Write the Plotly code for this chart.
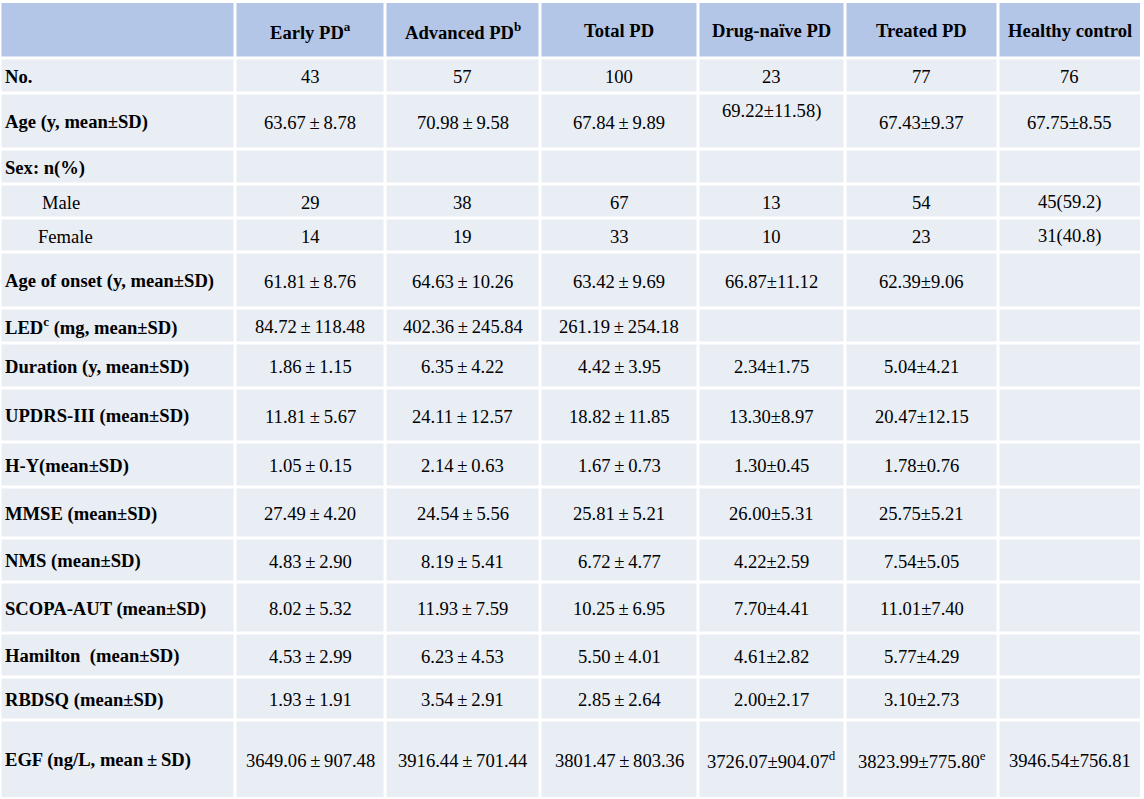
import plotly.graph_objects as go

# ---------------- data ----------------
col_headers = ["Early PD<sup>a</sup>", "Advanced PD<sup>b</sup>", "Total PD",
               "Drug-naïve PD", "Treated PD", "Healthy control"]

row_labels = ["No.", "Age (y, mean±SD)", "Sex: n(%)", "Male", "Female",
              "Age of onset (y, mean±SD)", "LED<sup>c</sup> (mg, mean±SD)",
              "Duration (y, mean±SD)", "UPDRS-III (mean±SD)", "H-Y(mean±SD)",
              "MMSE (mean±SD)", "NMS (mean±SD)", "SCOPA-AUT (mean±SD)",
              "Hamilton  (mean±SD)", "RBDSQ (mean±SD)", "EGF (ng/L, mean\u2009±\u2009SD)"]

early_pd = ["43", "63.67±8.78", "", "29", "14", "61.81±8.76", "84.72±118.48",
            "1.86±1.15", "11.81±5.67", "1.05±0.15", "27.49±4.20", "4.83±2.90",
            "8.02±5.32", "4.53±2.99", "1.93±1.91", "3649.06±907.48"]
advanced_pd = ["57", "70.98±9.58", "", "38", "19", "64.63±10.26", "402.36±245.84",
               "6.35±4.22", "24.11±12.57", "2.14±0.63", "24.54±5.56", "8.19±5.41",
               "11.93±7.59", "6.23±4.53", "3.54±2.91", "3916.44±701.44"]
total_pd = ["100", "67.84±9.89", "", "67", "33", "63.42±9.69", "261.19±254.18",
            "4.42±3.95", "18.82±11.85", "1.67±0.73", "25.81±5.21", "6.72±4.77",
            "10.25±6.95", "5.50±4.01", "2.85±2.64", "3801.47±803.36"]
drug_naive_pd = ["23", "69.22±11.58)", "", "13", "10", "66.87±11.12", "",
                 "2.34±1.75", "13.30±8.97", "1.30±0.45", "26.00±5.31", "4.22±2.59",
                 "7.70±4.41", "4.61±2.82", "2.00±2.17", "3726.07±904.07<sup>d</sup>"]
treated_pd = ["77", "67.43±9.37", "", "54", "23", "62.39±9.06", "",
              "5.04±4.21", "20.47±12.15", "1.78±0.76", "25.75±5.21", "7.54±5.05",
              "11.01±7.40", "5.77±4.29", "3.10±2.73", "3823.99±775.80<sup>e</sup>"]
healthy_control = ["76", "67.75±8.55", "", "45(59.2)", "31(40.8)", "", "",
                   "", "", "", "", "", "", "", "", "3946.54±756.81"]

columns = [early_pd, advanced_pd, total_pd, drug_naive_pd, treated_pd, healthy_control]

# ---------------- layout / style ----------------
W, H = 1144, 799
col_edges = [0, 235, 385, 540, 698, 845, 998, 1141.5]
row_edges = [1.5, 58, 93, 149, 184, 218, 252, 308, 343, 388, 442, 487, 538,
             582, 633, 677, 720, 798.5]
gap = 1.5
header_color = "#B4C6E7"
body_color = "#E9EDF4"
font_family = "Liberation Serif, Times New Roman, serif"
fs = 18.6
wide_pm_cols = {0, 1, 2}          # columns printed with a wide ± sign
label_x = {"Male": 40, "Female": 36}
plain_labels = {"Male", "Female"}
cell_yshift = {(1, 3): 11}        # (row, col) raised text

shapes = []
annotations = []

n_rows = len(row_labels) + 1
n_cols = len(col_headers) + 1
for i in range(n_rows):
    for j in range(n_cols):
        shapes.append(dict(
            type="rect", xref="x", yref="y",
            x0=col_edges[j] + gap, x1=col_edges[j + 1] - gap,
            y0=row_edges[i] + gap, y1=row_edges[i + 1] - gap,
            fillcolor=header_color if i == 0 else body_color,
            line=dict(width=0), layer="below"))

def ycen(i):
    return (row_edges[i] + row_edges[i + 1]) / 2 + 1

# header
for j, h in enumerate(col_headers):
    annotations.append(dict(
        x=(col_edges[j + 1] + col_edges[j + 2]) / 2, y=ycen(0),
        text="<b>%s</b>" % h, showarrow=False, xanchor="center", yanchor="middle",
        font=dict(family=font_family, size=fs, color="#000")))

# row labels
for r, lab in enumerate(row_labels):
    txt = lab if lab in plain_labels else "<b>%s</b>" % lab
    annotations.append(dict(
        x=label_x.get(lab, 3), y=ycen(r + 1), text=txt, showarrow=False,
        xanchor="left", yanchor="middle",
        font=dict(family=font_family, size=fs, color="#000")))

# values
for j, col in enumerate(columns):
    for r, v in enumerate(col):
        if not v:
            continue
        txt = v.replace("±", "\u2009±\u2009") if j in wide_pm_cols else v
        annotations.append(dict(
            x=(col_edges[j + 1] + col_edges[j + 2]) / 2, y=ycen(r + 1),
            text=txt, showarrow=False, xanchor="center", yanchor="middle",
            yshift=cell_yshift.get((r, j), 0),
            font=dict(family=font_family, size=fs, color="#000")))

fig = go.Figure()
fig.update_layout(
    width=W, height=H, margin=dict(l=0, r=0, t=0, b=0),
    paper_bgcolor="white", plot_bgcolor="white",
    xaxis=dict(range=[0, W], visible=False, fixedrange=True),
    yaxis=dict(range=[H, 0], visible=False, fixedrange=True),
    shapes=shapes, annotations=annotations, showlegend=False)

fig.write_html("out.html", config={"displayModeBar": False},
               post_script="document.body.style.margin='0';document.body.style.overflow='hidden';")
